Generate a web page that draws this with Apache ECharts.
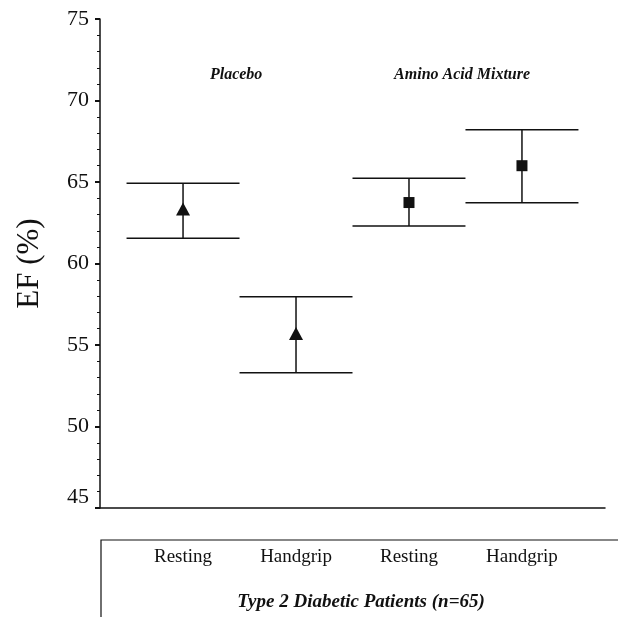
<!DOCTYPE html>
<html>
<head>
<meta charset="utf-8">
<script src="https://cdn.jsdelivr.net/npm/echarts@6/dist/echarts.min.js"></script>
<style>html,body{margin:0;padding:0;background:#fff;}#c{width:618px;height:617px;}</style>
</head>
<body>
<div id="c"></div>
<script>
// ---- data ----
var categories = ['Resting', 'Handgrip', 'Resting', 'Handgrip'];
var groups = ['Placebo', 'Amino Acid Mixture'];
var means = [63.35, 55.7, 63.74, 66.0];
var lowers = [61.55, 53.3, 62.3, 63.73];
var uppers = [64.92, 57.96, 65.23, 68.2];
var markerShapes = ['triangle', 'triangle', 'rect', 'rect'];
var yTicks = [45, 50, 55, 60, 65, 70, 75];
var xTitle = 'Type 2 Diabetic Patients (n=65)';
var yTitle = 'EF (%)';

var ink = '#111';
var serif = '"Liberation Serif", "DejaVu Serif", serif';

var errData = categories.map(function (c, i) { return [i, lowers[i], uppers[i]]; });
var meanData = categories.map(function (c, i) {
  return { value: [i, means[i]], symbol: markerShapes[i],
           symbolSize: markerShapes[i] === 'triangle' ? [14, 13] : [11, 11] };
});
var groupData = groups.map(function (g, k) { return { value: [k * 2 + 0.47, 71.6], name: g }; });

var chart = echarts.init(document.getElementById('c'), null, { renderer: 'canvas' });
chart.setOption({
  animation: false,
  backgroundColor: '#fff',
  grid: { left: 100, right: 13, top: 19, bottom: 109, containLabel: false },
  xAxis: {
    type: 'value', min: -0.735, max: 3.735,
    axisLine: { show: true, onZero: false, lineStyle: { color: ink, width: 1.5 } },
    axisTick: { show: false },
    splitLine: { show: false },
    axisLabel: {
      show: true, customValues: [0, 1, 2, 3], margin: 40,
      fontFamily: serif, fontSize: 19, color: ink,
      formatter: function (v) { return categories[Math.round(v)]; }
    }
  },
  yAxis: {
    type: 'value', min: yTicks[0], max: yTicks[yTicks.length - 1], interval: 5,
    name: yTitle, nameLocation: 'middle', nameRotate: 90, nameGap: 55,
    nameTextStyle: { fontFamily: serif, fontSize: 31, color: ink },
    axisLine: { show: true, onZero: false, lineStyle: { color: ink, width: 1.5 } },
    axisTick: { show: true, length: 5, lineStyle: { color: ink, width: 2 } },
    minorTick: { show: true, splitNumber: 5, length: 3, lineStyle: { color: ink, width: 1 } },
    splitLine: { show: false },
    axisLabel: { fontFamily: serif, fontSize: 22, color: ink, margin: 11,
                 verticalAlignMinLabel: 'bottom' }
  },
  graphic: [
    { type: 'polyline', shape: { points: [[101, 617], [101, 540], [618, 540]] },
      style: { stroke: ink, lineWidth: 1.2, fill: null } },
    { type: 'text', x: 361, y: 602,
      style: { text: xTitle, textAlign: 'center', textVerticalAlign: 'middle',
               font: 'italic bold 19px ' + serif, fill: ink } }
  ],
  series: [
    {
      type: 'custom',
      data: errData,
      renderItem: function (params, api) {
        var i = api.value(0);
        var lo = api.coord([i, api.value(1)]);
        var hi = api.coord([i, api.value(2)]);
        var half = (api.coord([i + 0.5, 50])[0] - api.coord([i, 50])[0]);
        var st = { stroke: ink, lineWidth: 1.5 };
        return { type: 'group', children: [
          { type: 'line', shape: { x1: lo[0] - half, y1: lo[1], x2: lo[0] + half, y2: lo[1] }, style: st },
          { type: 'line', shape: { x1: hi[0] - half, y1: hi[1], x2: hi[0] + half, y2: hi[1] }, style: st },
          { type: 'line', shape: { x1: lo[0], y1: lo[1], x2: hi[0], y2: hi[1] }, style: st }
        ]};
      },
      z: 2
    },
    {
      type: 'scatter', data: meanData,
      itemStyle: { color: ink, opacity: 1 }, z: 3
    },
    {
      type: 'scatter', data: groupData, symbolSize: 0,
      itemStyle: { opacity: 1 },
      label: { show: true, position: 'inside', formatter: '{b}',
               fontFamily: serif, fontStyle: 'italic', fontWeight: 'bold', fontSize: 16, color: ink },
      z: 3
    }
  ]
});
</script>
</body>
</html>
